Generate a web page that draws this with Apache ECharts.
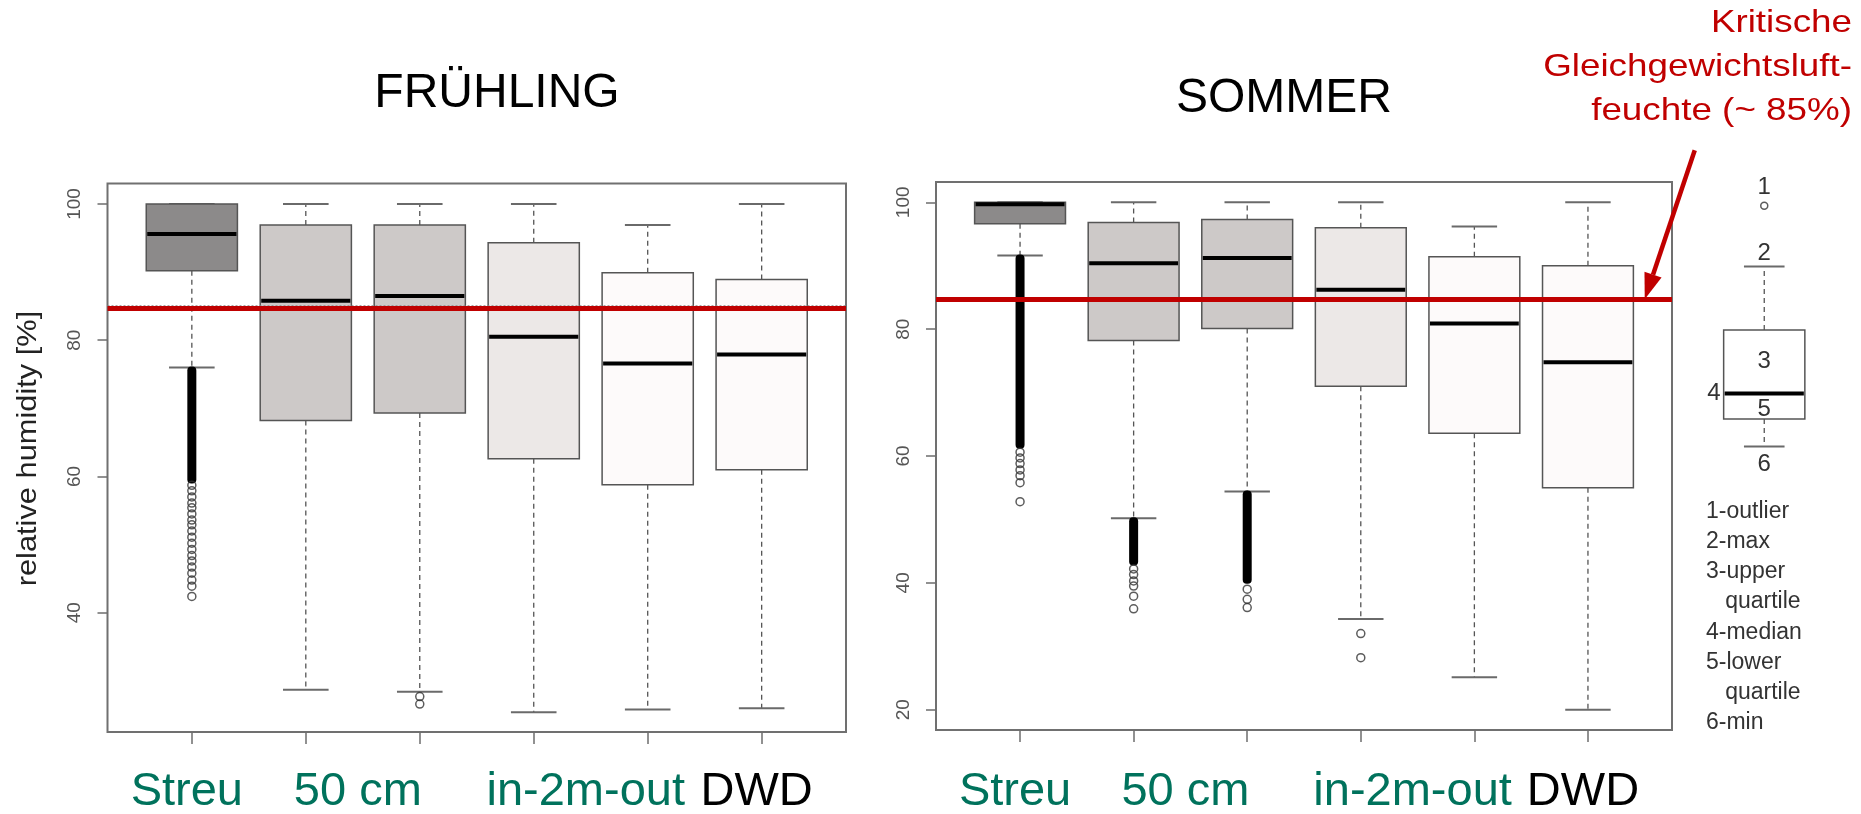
<!DOCTYPE html>
<html><head><meta charset="utf-8">
<script src="https://cdn.jsdelivr.net/npm/echarts@6/dist/echarts.min.js"></script>
<style>html,body{margin:0;padding:0;background:#fff}#c{width:1861px;height:814px}</style>
</head><body><div id="c"></div>
<script>
// ---------------- data ----------------
const panelTitles = ['FRÜHLING', 'SOMMER'];
const boxPositions = [1, 2, 3, 4, 5, 6];
const boxFills = ['#8c8a8a', '#cdc9c8', '#cdc9c8', '#ece8e7', '#fdfafa', '#fdfafa'];
const groupLabels = ['Streu', '50 cm', 'in-2m-out', 'DWD'];
const groupPositions = [1, 2.5, 4.5, 6];
const groupColors = ['#00725c', '#00725c', '#00725c', '#000000'];

// [min, q1, median, q3, max] per box
const springStats = [
  [76.0, 90.2, 95.6, 100.0, 100.0],
  [28.7, 68.2, 85.8, 96.9, 100.0],
  [28.4, 69.3, 86.5, 96.9, 100.0],
  [25.4, 62.6, 80.5, 94.3, 100.0],
  [25.8, 58.8, 76.6, 89.9, 96.9],
  [26.0, 61.0, 77.9, 88.9, 100.0]
];
const summerStats = [
  [91.6, 96.6, 99.7, 100.0, 100.0],
  [50.2, 78.2, 90.4, 96.8, 100.0],
  [54.4, 80.1, 91.2, 97.3, 100.0],
  [34.3, 71.0, 86.2, 96.0, 100.0],
  [25.1, 63.6, 80.9, 91.4, 96.2],
  [20.0, 55.0, 74.8, 90.0, 100.0]
];
// dense (overplotted) outlier runs: [box position, low, high]
const springDenseOutliers = [[1, 59.1, 76.0]];
const summerDenseOutliers = [[1, 61.3, 91.6], [2, 42.9, 50.2], [3, 40.0, 54.4]];
// single outliers per box
const springOutliersStreu = [58.7, 57.9, 57.0, 56.1, 55.4, 54.5, 53.6, 52.9, 52.0, 51.1, 50.2, 49.3, 48.4, 47.6, 46.7, 45.8, 44.8, 43.9, 42.4];
const springOutliersBox3 = [27.7, 26.6];
const summerOutliersStreu = [60.6, 59.7, 58.8, 57.8, 56.9, 55.8, 52.8];
const summerOutliersBox2 = [42.2, 41.3, 40.3, 39.5, 37.9, 35.9];
const summerOutliersBox3 = [39.0, 37.4, 36.1];
const summerOutliersBox4 = [32.0, 28.2];

const criticalHumidity = 84.7;
const springDottedLine = 85.1;
const springTicks = [40, 60, 80, 100];
const summerTicks = [20, 40, 60, 80, 100];
const springRange = [22.5, 103.0];
const summerRange = [16.8, 103.2];
const yAxisTitle = 'relative humidity [%]';
const annotationLines = ['Kritische', 'Gleichgewichtsluft-', 'feuchte (~ 85%)'];

// key (schematic boxplot)
const keyStats = [11.2, 20.3, 28.8, 50.0, 71.2];
const keyOutlier = [91.4];
const keyNumbers = ['1', '2', '3', '4', '5', '6'];
const keyLegend = ['1-outlier', '2-max', '3-upper', '   quartile', '4-median', '5-lower', '   quartile', '6-min'];

// ---------------- chart ----------------
const FONT = '"Liberation Sans", Arial, Helvetica, sans-serif';
const chart = echarts.init(document.getElementById('c'), null, {renderer: 'canvas'});

function boxRenderer(fills) {
  return function (params, api) {
    const x = api.value(0), lo = api.value(1), q1 = api.value(2), med = api.value(3), q3 = api.value(4), hi = api.value(5);
    const c = (xx, yy) => api.coord([xx, yy]);
    const cx = c(x, med)[0];
    const tl = c(x - 0.4, q3), br = c(x + 0.4, q1);
    const whisk = {stroke: '#555', lineWidth: 1.3, lineDash: [5, 4], fill: null};
    const cap = {stroke: '#6a6a6a', lineWidth: 2, fill: null};
    const ch = [];
    if (hi > q3) ch.push({type: 'line', shape: {x1: cx, y1: c(x, q3)[1], x2: cx, y2: c(x, hi)[1]}, style: whisk});
    if (lo < q1) ch.push({type: 'line', shape: {x1: cx, y1: c(x, q1)[1], x2: cx, y2: c(x, lo)[1]}, style: whisk});
    ch.push({type: 'line', shape: {x1: c(x - 0.2, hi)[0], y1: c(x, hi)[1], x2: c(x + 0.2, hi)[0], y2: c(x, hi)[1]}, style: cap});
    ch.push({type: 'line', shape: {x1: c(x - 0.2, lo)[0], y1: c(x, lo)[1], x2: c(x + 0.2, lo)[0], y2: c(x, lo)[1]}, style: cap});
    ch.push({type: 'rect', shape: {x: tl[0], y: tl[1], width: br[0] - tl[0], height: br[1] - tl[1]},
      style: {fill: fills[params.dataIndex], stroke: '#555', lineWidth: 1.5}});
    const m = c(x, med)[1];
    ch.push({type: 'line', shape: {x1: tl[0] + 1, y1: m, x2: br[0] - 1, y2: m}, style: {stroke: '#000', lineWidth: 4}});
    return {type: 'group', children: ch};
  };
}
function denseRenderer(params, api) {
  const top = api.coord([api.value(0), api.value(2)]);
  const bot = api.coord([api.value(0), api.value(1)]);
  return {type: 'rect', shape: {x: top[0] - 4.5, y: top[1] - 1, width: 9, height: bot[1] - top[1] + 2, r: 4},
    style: {fill: '#000'}};
}
function boxData(stats) { return stats.map((s, i) => [boxPositions[i]].concat(s)); }
function pts(pos, arr) { return arr.map(v => [pos, v]); }

const outlierStyle = {color: 'rgba(0,0,0,0)', borderColor: '#333', borderWidth: 1.5};

function xAxisFor(grid, show) {
  return {gridIndex: grid, type: 'value', min: 0.26, max: 6.74, show: show,
    axisLine: {show: false}, splitLine: {show: false}, axisLabel: {show: false},
    axisTick: {show: true, customValues: boxPositions, length: 12, lineStyle: {color: '#6e6e6e', width: 1.5}}};
}
function yAxisFor(grid, range, ticks) {
  return {gridIndex: grid, type: 'value', min: range[0], max: range[1],
    axisLine: {show: false}, splitLine: {show: false},
    axisTick: {show: true, customValues: ticks, length: 10, lineStyle: {color: '#6e6e6e', width: 1.5}},
    axisLabel: {show: true, customValues: ticks, rotate: 90, margin: 23, fontSize: 19, color: '#555', fontFamily: FONT}};
}

const option = {
  animation: false,
  backgroundColor: '#fff',
  grid: [
    {left: 107.5, top: 183.5, width: 738.5, height: 548.5, show: true, borderColor: '#707070', borderWidth: 2, outerBoundsMode: 'none'},
    {left: 936, top: 182, width: 736, height: 548, show: true, borderColor: '#707070', borderWidth: 2, outerBoundsMode: 'none'},
    {left: 1713.5, top: 180, width: 101.5, height: 300, show: false, outerBoundsMode: 'none'}
  ],
  xAxis: [xAxisFor(0, true), xAxisFor(1, true),
    {gridIndex: 2, type: 'value', min: 0.5, max: 1.5, show: false}],
  yAxis: [yAxisFor(0, springRange, springTicks), yAxisFor(1, summerRange, summerTicks),
    {gridIndex: 2, type: 'value', min: 0, max: 100, show: false}],
  series: [
    {type: 'custom', xAxisIndex: 0, yAxisIndex: 0, renderItem: boxRenderer(boxFills), data: boxData(springStats), z: 2,
      markLine: {silent: true, symbol: ['none', 'none'], label: {show: false}, z: 10,
        data: [
          {yAxis: springDottedLine, lineStyle: {color: '#888', width: 1.5, type: [2, 2]}},
          {yAxis: criticalHumidity, lineStyle: {color: '#c00000', width: 5, type: 'solid'}}
        ]}},
    {type: 'custom', xAxisIndex: 0, yAxisIndex: 0, renderItem: denseRenderer, data: springDenseOutliers, z: 3},
    {type: 'scatter', xAxisIndex: 0, yAxisIndex: 0, symbol: 'circle', symbolSize: 8, itemStyle: outlierStyle, z: 3,
      data: pts(1, springOutliersStreu).concat(pts(3, springOutliersBox3))},
    {type: 'custom', xAxisIndex: 1, yAxisIndex: 1, renderItem: boxRenderer(boxFills), data: boxData(summerStats), z: 2,
      markLine: {silent: true, symbol: ['none', 'none'], label: {show: false}, z: 10,
        data: [{yAxis: criticalHumidity, lineStyle: {color: '#c00000', width: 5, type: 'solid'}}]}},
    {type: 'custom', xAxisIndex: 1, yAxisIndex: 1, renderItem: denseRenderer, data: summerDenseOutliers, z: 3},
    {type: 'scatter', xAxisIndex: 1, yAxisIndex: 1, symbol: 'circle', symbolSize: 8, itemStyle: outlierStyle, z: 3,
      data: pts(1, summerOutliersStreu).concat(pts(2, summerOutliersBox2), pts(3, summerOutliersBox3), pts(4, summerOutliersBox4))},
    {type: 'custom', xAxisIndex: 2, yAxisIndex: 2, renderItem: boxRenderer(['#ffffff']), data: [[1].concat(keyStats)], z: 2},
    {type: 'scatter', xAxisIndex: 2, yAxisIndex: 2, symbol: 'circle', symbolSize: 7, itemStyle: outlierStyle, z: 3,
      data: pts(1, keyOutlier)}
  ]
};
chart.setOption(option);

// ---------------- text / annotations ----------------
const g = [];
function txt(x, y, text, size, color, align, extra) {
  return Object.assign({type: 'text', x: x, y: y, silent: true, z: 100,
    style: {text: text, font: size + 'px ' + FONT, fill: color, align: align || 'center', verticalAlign: 'middle'}}, extra || {});
}
// titles
g.push(txt(497, 94, panelTitles[0], 48, '#000'));
g.push(txt(1284, 99, panelTitles[1], 48, '#000'));
// y axis title
g.push(txt(28.5, 448.5, yAxisTitle, 28, '#222', 'center', {rotation: Math.PI / 2, scaleX: 1.1}));
// group labels under each panel
[0, 1].forEach(function (gi) {
  groupLabels.forEach(function (lab, i) {
    const p = chart.convertToPixel({gridIndex: gi}, [groupPositions[i], 50]);
    g.push(txt(p[0] - 5, 792, lab, 47, groupColors[i]));
  });
});
// annotation text
annotationLines.forEach(function (l, i) {
  g.push(txt(1852, 23.5 + i * 44, l, 32, '#c00000', 'right', {scaleX: 1.15}));
});
// arrow to the critical line in the summer panel
const tip = chart.convertToPixel({gridIndex: 1}, [6.5, criticalHumidity]);
const start = [tip[0] + 50, tip[1] - 149];
const dx = tip[0] - start[0], dy = tip[1] - start[1], len = Math.sqrt(dx * dx + dy * dy);
const ux = dx / len, uy = dy / len, hl = 26, hw = 9;
const base = [tip[0] - ux * hl, tip[1] - uy * hl];
g.push({type: 'line', silent: true, z: 100, shape: {x1: start[0], y1: start[1], x2: base[0], y2: base[1]},
  style: {stroke: '#c00000', lineWidth: 4.5}});
g.push({type: 'polygon', silent: true, z: 100, shape: {points: [tip, [base[0] - uy * hw, base[1] + ux * hw], [base[0] + uy * hw, base[1] - ux * hw]]},
  style: {fill: '#c00000'}});
// key numbers
const kp = v => chart.convertToPixel({gridIndex: 2}, [1, v]);
const kl = chart.convertToPixel({gridIndex: 2}, [0.6, keyStats[2]]);
g.push(txt(kp(keyOutlier[0])[0], kp(keyOutlier[0])[1] - 18, keyNumbers[0], 24, '#333'));
g.push(txt(kp(keyStats[4])[0], kp(keyStats[4])[1] - 13, keyNumbers[1], 24, '#333'));
g.push(txt(kp(keyStats[3])[0], (kp(keyStats[3])[1] + kp(keyStats[2])[1]) / 2, keyNumbers[2], 24, '#333'));
g.push(txt(kl[0] - 3, kl[1], keyNumbers[3], 24, '#333', 'right'));
g.push(txt(kp(keyStats[1])[0], (kp(keyStats[2])[1] + kp(keyStats[1])[1]) / 2 + 3, keyNumbers[4], 24, '#333'));
g.push(txt(kp(keyStats[0])[0], kp(keyStats[0])[1] + 18, keyNumbers[5], 24, '#333'));
// key legend lines
keyLegend.forEach(function (l, i) {
  g.push(txt(1706, 511.5 + i * 30.2, l, 23, '#333', 'left'));
});
chart.setOption({graphic: g});
</script>
</body></html>
